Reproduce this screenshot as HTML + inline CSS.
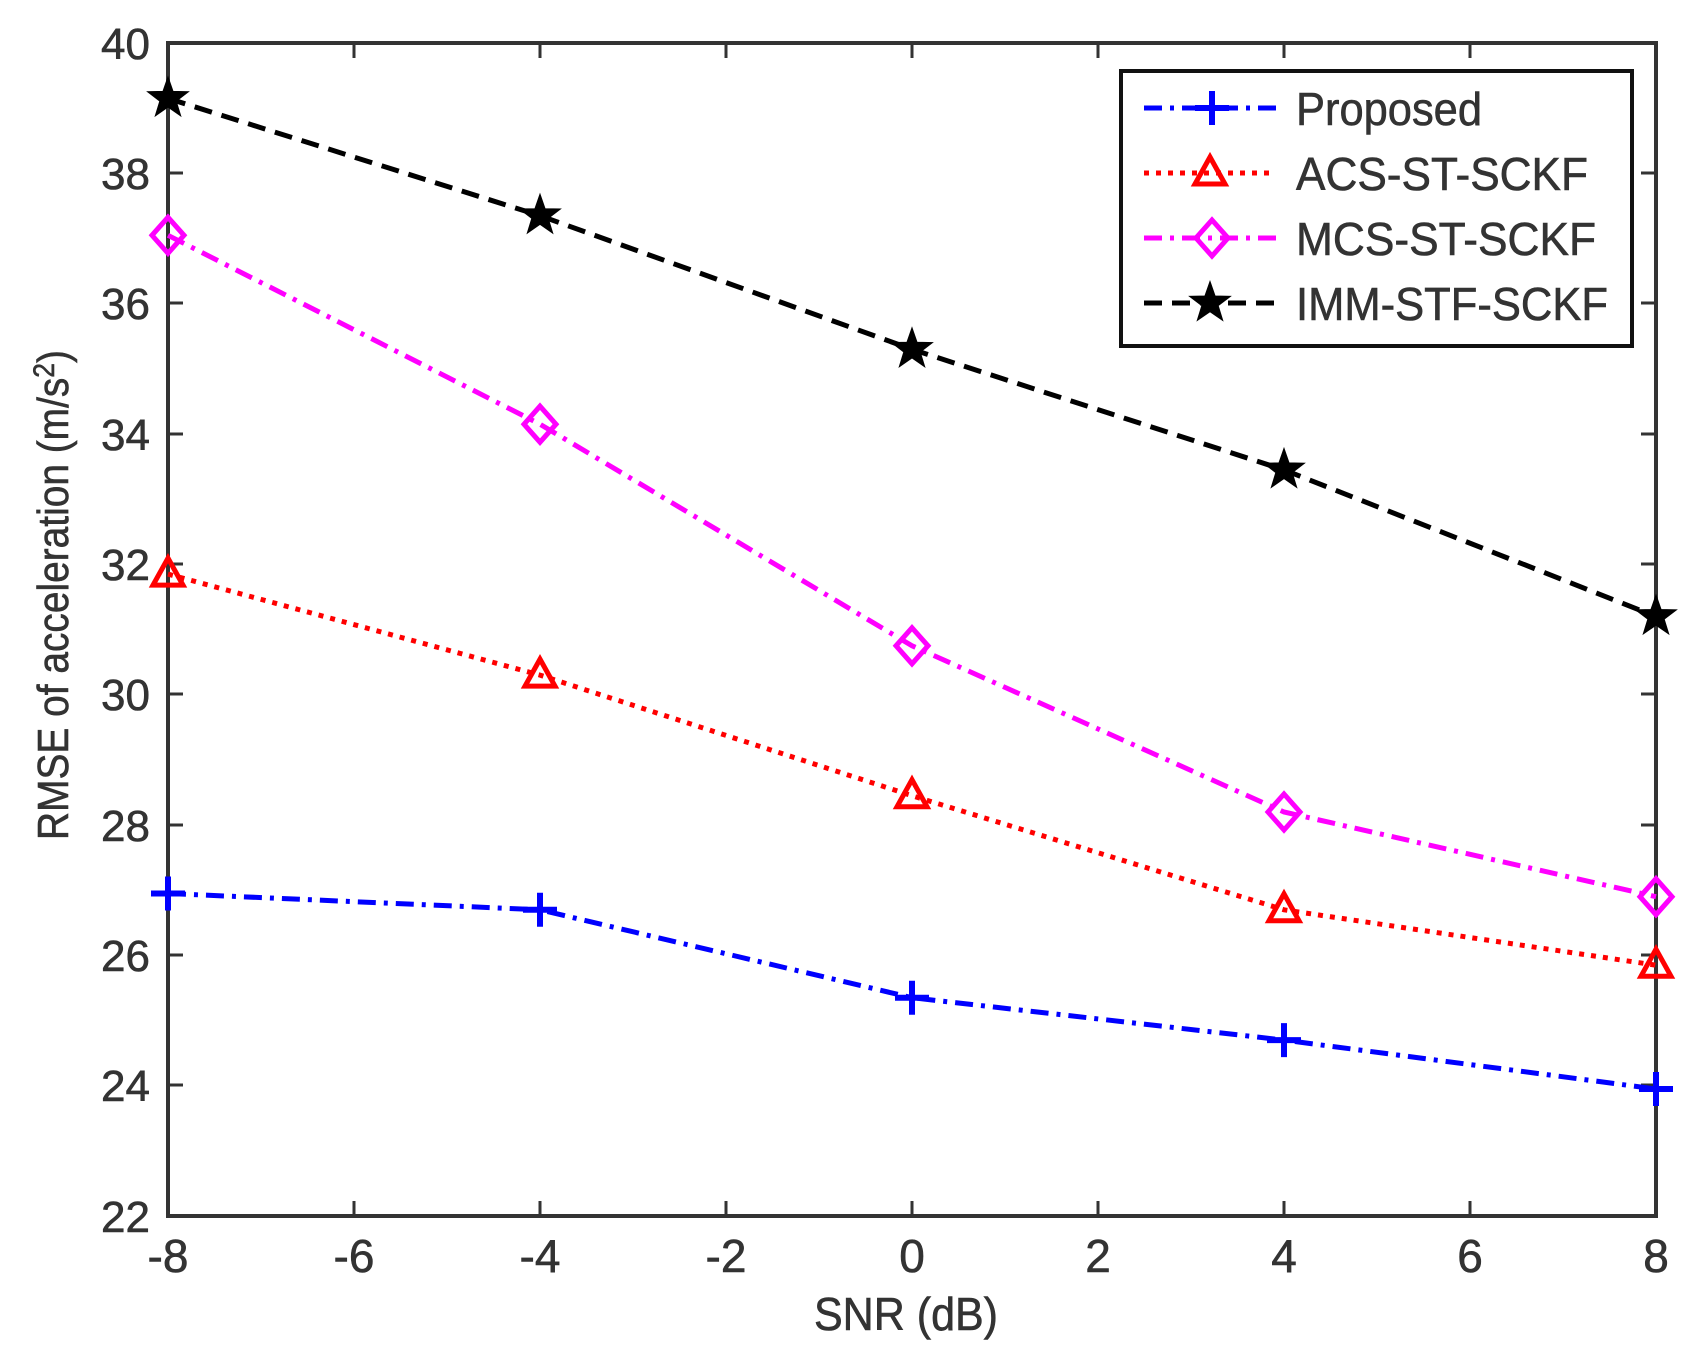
<!DOCTYPE html>
<html><head><meta charset="utf-8"><style>
html,body{margin:0;padding:0;background:#fff;}
svg{display:block;font-family:"Liberation Sans",Arial,sans-serif;}
</style></head><body>
<svg width="1706" height="1363" viewBox="0 0 1706 1363" xmlns="http://www.w3.org/2000/svg">
<defs>
<path id="plus" d="M-17,0H17M0,-17V17" stroke="#0000ff" stroke-width="6" fill="none"/>
<path id="tri" d="M0,-16L15,11H-15Z" stroke="#ff0000" stroke-width="5" fill="none"/>
<path id="dia" d="M0,-18L16,0L0,18L-16,0Z" stroke="#ff00ff" stroke-width="5" fill="none"/>
<polygon id="star" points="0,-20 4.7,-6.5 19,-6.2 7.6,2.5 11.8,16.2 0,8 -11.8,16.2 -7.6,2.5 -19,-6.2 -4.7,-6.5" fill="#000" stroke="#000" stroke-width="2"/>
</defs>
<rect x="168" y="43" width="1488" height="1173" fill="none" stroke="#333" stroke-width="4"/>
<g stroke="#333" stroke-width="3">
<path d="M354,1216v-15M540,1216v-15M726,1216v-15M912,1216v-15M1098,1216v-15M1284,1216v-15M1470,1216v-15
M354,43v15M540,43v15M726,43v15M912,43v15M1098,43v15M1284,43v15M1470,43v15"/>
<path d="M168,173h15M168,303h15M168,434h15M168,564h15M168,694h15M168,825h15M168,955h15M168,1085h15
M1656,173h-15M1656,303h-15M1656,434h-15M1656,564h-15M1656,694h-15M1656,825h-15M1656,955h-15M1656,1085h-15"/>
</g>
<g font-size="44" fill="#333" stroke="#333" stroke-width="0.6" text-anchor="end">
<text x="150" y="59">40</text><text x="150" y="189">38</text><text x="150" y="319">36</text>
<text x="150" y="450">34</text><text x="150" y="580">32</text><text x="150" y="710">30</text>
<text x="150" y="841">28</text><text x="150" y="971">26</text><text x="150" y="1101">24</text>
<text x="150" y="1232">22</text>
</g>
<g font-size="46" fill="#333" stroke="#333" stroke-width="0.6" text-anchor="middle">
<text x="168" y="1272">-8</text><text x="354" y="1272">-6</text><text x="540" y="1272">-4</text>
<text x="726" y="1272">-2</text><text x="912" y="1272">0</text><text x="1098" y="1272">2</text>
<text x="1284" y="1272">4</text><text x="1470" y="1272">6</text><text x="1656" y="1272">8</text>
<text x="906" y="1330" textLength="184" lengthAdjust="spacingAndGlyphs">SNR (dB)</text>
</g>
<text transform="translate(68,595) rotate(-90)" font-size="44" fill="#333" stroke="#333" stroke-width="0.6" text-anchor="middle" textLength="490" lengthAdjust="spacingAndGlyphs">RMSE of acceleration (m/s<tspan dy="-14" font-size="30">2</tspan><tspan dy="14">)</tspan></text>

<polyline points="168,98.4 540,215.7 912,349.3 1284,469.9 1656,616.5" fill="none" stroke="#000" stroke-width="5" stroke-dasharray="18,10"/>
<polyline points="168,235.3 540,424.2 912,645.8 1284,812 1656,896.7" fill="none" stroke="#ff00ff" stroke-width="5" stroke-dasharray="18,8,4,8"/>
<polyline points="168,574.1 540,675.1 912,795.7 1284,909.8 1656,965.2" fill="none" stroke="#ff0000" stroke-width="5" stroke-dasharray="5,7"/>
<polyline points="168,893.5 540,909.8 912,997.7 1284,1040.1 1656,1089" fill="none" stroke="#0000ff" stroke-width="5" stroke-dasharray="18,8,4,8"/>
<use href="#star" x="168" y="98.4"/><use href="#star" x="540" y="215.7"/><use href="#star" x="912" y="349.3"/><use href="#star" x="1284" y="469.9"/><use href="#star" x="1656" y="616.5"/>
<use href="#dia" x="168" y="235.3"/><use href="#dia" x="540" y="424.2"/><use href="#dia" x="912" y="645.8"/><use href="#dia" x="1284" y="812"/><use href="#dia" x="1656" y="896.7"/>
<use href="#tri" x="168" y="574.1"/><use href="#tri" x="540" y="675.1"/><use href="#tri" x="912" y="795.7"/><use href="#tri" x="1284" y="909.8"/><use href="#tri" x="1656" y="965.2"/>
<use href="#plus" x="168" y="893.5"/><use href="#plus" x="540" y="909.8"/><use href="#plus" x="912" y="997.7"/><use href="#plus" x="1284" y="1040.1"/><use href="#plus" x="1656" y="1089"/>

<rect x="1121" y="71" width="511" height="275" fill="#fff" stroke="#111" stroke-width="4"/>
<line x1="1144" y1="108" x2="1280" y2="108" stroke="#0000ff" stroke-width="5" stroke-dasharray="18,8,4,8"/>
<use href="#plus" x="1212" y="108"/>
<line x1="1144" y1="173" x2="1276" y2="173" stroke="#ff0000" stroke-width="5" stroke-dasharray="5,7"/>
<use href="#tri" x="1210" y="173"/>
<line x1="1144" y1="238" x2="1280" y2="238" stroke="#ff00ff" stroke-width="5" stroke-dasharray="18,8,4,8"/>
<use href="#dia" x="1212" y="238"/>
<line x1="1144" y1="303" x2="1276" y2="303" stroke="#000" stroke-width="5" stroke-dasharray="18,10"/>
<use href="#star" x="1210" y="303"/>
<g font-size="46" fill="#333" stroke="#333" stroke-width="0.6">
<text x="1296" y="125" textLength="186" lengthAdjust="spacingAndGlyphs">Proposed</text>
<text x="1296" y="190" textLength="292" lengthAdjust="spacingAndGlyphs">ACS-ST-SCKF</text>
<text x="1296" y="255" textLength="300" lengthAdjust="spacingAndGlyphs">MCS-ST-SCKF</text>
<text x="1296" y="320" textLength="312" lengthAdjust="spacingAndGlyphs">IMM-STF-SCKF</text>
</g>
</svg>
</body></html>
